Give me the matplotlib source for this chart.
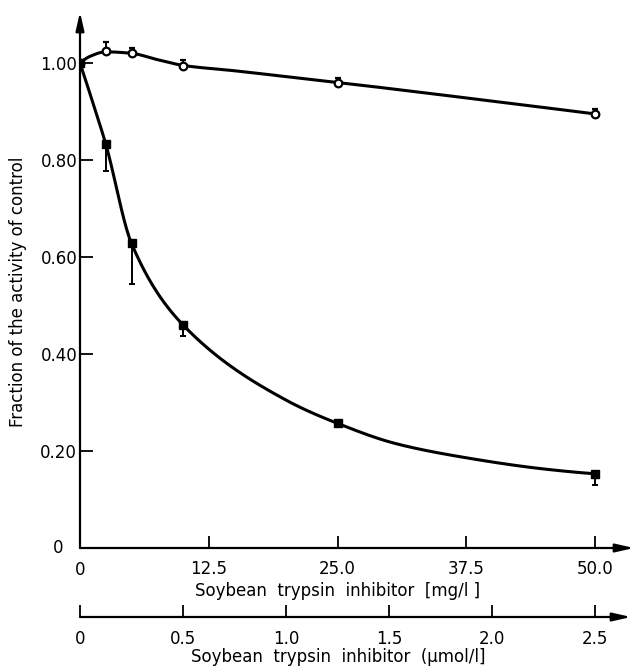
import numpy as np
import matplotlib.pyplot as plt

# measured points, inhibitor concentration in mg/l
conc = [0, 2.5, 5, 10, 25, 50]
inhib = [1.00, 0.833, 0.628, 0.460, 0.257, 0.153]      # filled squares
inhib_err = [0, 0.056, 0.084, 0.023, 0.006, 0.023]     # drawn downward only
ctrl = [1.00, 1.025, 1.021, 0.994, 0.959, 0.895]       # open circles
ctrl_err = [0, 0.018, 0.010, 0.012, 0.010, 0.010]      # drawn upward only

# hand drawn curves
curve1_x = [0, 1.25, 2.5, 5, 10, 20, 25, 30.7, 37.5, 45, 50]
curve1_y = [1.0, 0.918, 0.833, 0.628, 0.46, 0.305, 0.257, 0.215, 0.186, 0.163, 0.153]
curve2_x = [0, 1.0, 2.5, 5, 7.5, 10, 15, 20, 25, 37.5, 50]
curve2_y = [1.0, 1.014, 1.023, 1.020, 1.007, 0.995, 0.984, 0.972, 0.960, 0.928, 0.895]

xticks_mg = [0, 12.5, 25, 37.5, 50]
xlabels_mg = ['0', '12.5', '25.0', '37.5', '50.0']
xticks_um = [0, 0.5, 1.0, 1.5, 2.0, 2.5]
xlabels_um = ['0', '0.5', '1.0', '1.5', '2.0', '2.5']
yticks = [0, 0.2, 0.4, 0.6, 0.8, 1.0]
ylabels = ['0', '0.20', '0.40', '0.60', '0.80', '1.00']
mg_per_um = 20.0   # 2.5 umol/l == 50 mg/l


def smooth(xs, ys, n=400):
    # monotone cubic (fritsch-carlson), only for drawing the line through traced points
    x = np.asarray(xs, float)
    y = np.asarray(ys, float)
    h = np.diff(x)
    d = np.diff(y) / h
    m = np.zeros(len(x))
    for i in range(1, len(x) - 1):
        if d[i - 1] * d[i] > 0:
            w1 = 2 * h[i] + h[i - 1]
            w2 = h[i] + 2 * h[i - 1]
            m[i] = (w1 + w2) / (w1 / d[i - 1] + w2 / d[i])
    m[0] = ((2 * h[0] + h[1]) * d[0] - h[0] * d[1]) / (h[0] + h[1])
    if m[0] * d[0] <= 0:
        m[0] = 0
    m[-1] = ((2 * h[-1] + h[-2]) * d[-1] - h[-1] * d[-2]) / (h[-1] + h[-2])
    if m[-1] * d[-1] <= 0:
        m[-1] = 0
    xx = np.linspace(x[0], x[-1], n)
    j = np.clip(np.searchsorted(x, xx) - 1, 0, len(x) - 2)
    t = (xx - x[j]) / h[j]
    h00 = 2 * t ** 3 - 3 * t ** 2 + 1
    h10 = t ** 3 - 2 * t ** 2 + t
    h01 = -2 * t ** 3 + 3 * t ** 2
    h11 = t ** 3 - t ** 2
    yy = h00 * y[j] + h10 * h[j] * m[j] + h01 * y[j + 1] + h11 * h[j] * m[j + 1]
    return xx, yy


W, H = 637, 667
fig = plt.figure(figsize=(W / 100, H / 100), dpi=100)
plt.rcParams['font.family'] = ['DejaVu Sans']

x0, x1 = 80, 634
y0, y1 = 548, 12
ax = fig.add_axes([x0 / W, 1 - y0 / H, (x1 - x0) / W, (y0 - y1) / H])
xmax = (x1 - x0) / 10.3
ax.set_xlim(0, xmax)
ax.set_ylim(0, (y0 - y1) / 485.0)
for s in ax.spines.values():
    s.set_visible(False)

arrow = dict(arrowstyle='-|>,head_length=1.1,head_width=0.25', lw=1.6, color='k',
             shrinkA=0, shrinkB=0)
ax.annotate('', xy=(1, 0), xytext=(0, 0), xycoords='axes fraction', arrowprops=arrow)
ax.annotate('', xy=(0, 1), xytext=(0, 0), xycoords='axes fraction', arrowprops=arrow)

cx, cy = smooth(curve1_x, curve1_y)
ax.plot(cx, cy, color='k', lw=2.2, solid_capstyle='round')
cx, cy = smooth(curve2_x, curve2_y)
ax.plot(cx, cy, color='k', lw=2.2, solid_capstyle='round')

z = [0] * len(conc)
ax.errorbar(conc, ctrl, yerr=[z, ctrl_err], fmt='o', ms=5.5, mfc='white', mec='k', mew=1.6,
            ecolor='k', elinewidth=1.4, capsize=2.5, capthick=1.4, zorder=4)
ax.errorbar(conc, inhib, yerr=[inhib_err, z], fmt='s', ms=6, mfc='k', mec='k',
            ecolor='k', elinewidth=1.4, capsize=2.5, capthick=1.4, zorder=5)

ax.set_xticks(xticks_mg[1:])
ax.set_xticklabels(xlabels_mg[1:])
ax.set_yticks(yticks[1:])
ax.set_yticklabels(ylabels[1:])
ax.tick_params(axis='x', direction='in', length=9, width=1.3, labelsize=12, pad=9)
ax.tick_params(axis='y', direction='in', length=9, width=1.3, labelsize=12, pad=2)
ax.text(0, -0.025, xlabels_mg[0], transform=ax.get_xaxis_transform(), ha='center', va='top', fontsize=12)
ax.text(-17 / 552 * xmax, 0, ylabels[0], ha='right', va='center', fontsize=12)

# second concentration axis in umol/l
y2 = 617
ax2 = fig.add_axes([x0 / W, 1 - y2 / H, (x1 - 3 - x0) / W, 0.0001])
ax2.set_xlim(0, (x1 - 3 - x0) / 10.3 / mg_per_um)
for s in ax2.spines.values():
    s.set_visible(False)
ax2.set_yticks([])
ax2.annotate('', xy=(1, 0), xytext=(0, 0), xycoords='axes fraction', arrowprops=arrow)
ax2.set_xticks(xticks_um)
ax2.set_xticklabels(xlabels_um)
ax2.tick_params(axis='x', direction='in', length=9, width=1.3, labelsize=12, pad=9)

fig.text(338 / W, 1 - 591 / H, 'Soybean  trypsin  inhibitor  [mg/l ]', ha='center', va='center', fontsize=12)
fig.text(338 / W, 1 - 657 / H, 'Soybean  trypsin  inhibitor  (µmol/l]', ha='center', va='center', fontsize=12)
fig.text(18 / W, 1 - 292 / H, 'Fraction of the activity of control', ha='center', va='center',
         rotation=90, fontsize=12)

fig.savefig('out.png', dpi=100)
